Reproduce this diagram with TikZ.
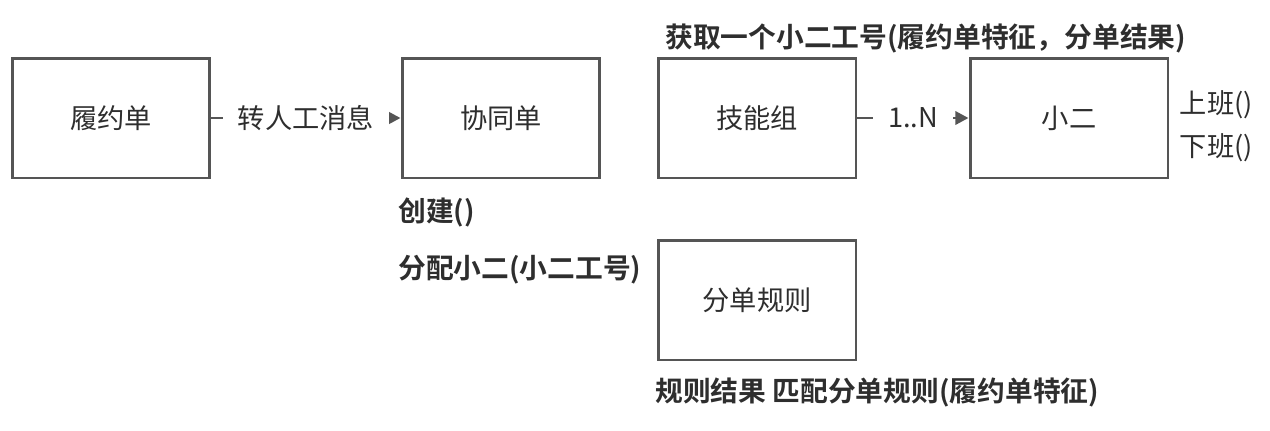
\documentclass[tikz,border=0pt]{standalone}
\usepackage{fontspec}
\setmainfont{Noto Sans CJK SC}[BoldFont={* Bold}]
\usetikzlibrary{arrows.meta,positioning}
\definecolor{myGray}{HTML}{555555}
\definecolor{myText}{HTML}{2E2E2E}
\tikzset{
myBox/.style={
	rectangle,draw=myGray,line width=1.7pt,fill=white,
	minimum width=3.96cm,minimum height=2.4cm,
	inner sep=0pt,text=myText,font=\fontsize{15.5pt}{18pt}\selectfont
}
, myLabel/.style={
	fill=white,inner xsep=0.3cm,inner ysep=3pt,text=myText,
	font=\fontsize{15.5pt}{18pt}\selectfont
}
, myNote/.style={
	anchor=west,inner sep=0pt,text=myText,
	font=\fontsize{15.8pt}{18pt}\selectfont\bfseries
}
, myMethod/.style={
	anchor=west,inner sep=0pt,text=myText,
	font=\fontsize{15.5pt}{18pt}\selectfont
}
% link
, myLink/.style={-{Triangle[length=7.5pt,width=7.5pt]},draw=myGray,line width=1.7pt,shorten <=-0.85pt}
}
\begin{document}
\begin{tikzpicture}[x=0.02cm,y=-0.02cm]
	\useasboundingbox (0,0) rectangle (1270,430);
	% nodes
	\node[myBox] (Order) at (111,118) {履约单};
	\node[myBox] (Collab) at (501,118) {协同单};
	\node[myBox] (Skill) at (757,118) {技能组};
	\node[myBox] (Agent) at (1069,118) {小二};
	\node[myBox] (Rule) at (757,300) {分单规则};
	% links
	\draw [myLink] (Order.east) -- node[myLabel] {转人工消息} (Collab.west);
	\draw [myLink] (Skill.east) -- node[myLabel] {1..N} (Agent.west);
	% methods
	\node[myNote] (GetAgent) at (665,38) {获取一个小二工号(履约单特征，分单结果)};
	\node[myMethod] (OnDuty) [right=0.2cm of Agent.east, yshift=0.27cm] {上班()};
	\node[myMethod] (OffDuty) [right=0.2cm of Agent.east, yshift=-0.6cm] {下班()};
	\node[myNote] (Create) at (398,212) {创建()};
	\node[myNote] (Assign) at (398,270) {分配小二(小二工号)};
	\node[myNote] (Match) at (655,392) {规则结果 匹配分单规则(履约单特征)};
\end{tikzpicture}
\end{document}
